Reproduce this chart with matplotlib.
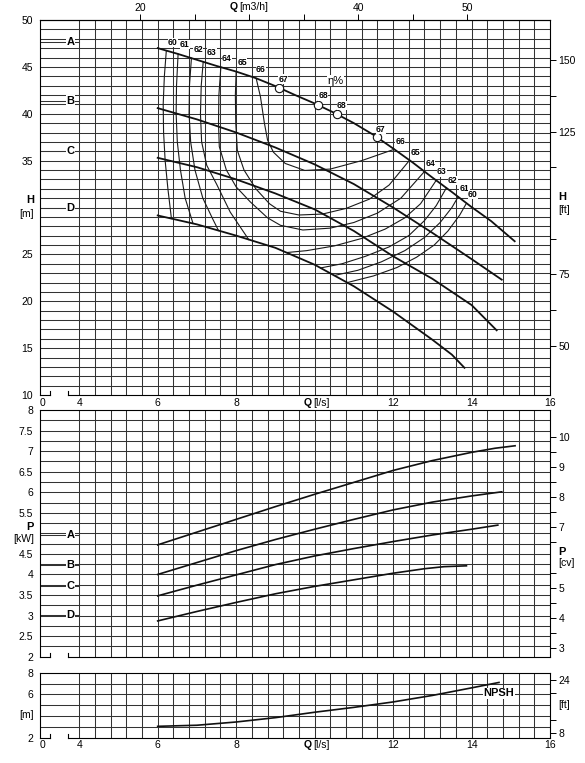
import numpy as np
import matplotlib.pyplot as plt

plt.rcParams['font.family'] = ['Liberation Sans', 'DejaVu Sans']

M_TO_FT = 3.28084
KW_TO_CV = 1.0 / 0.7355
LS_TO_M3H = 3.6

# grid of the Q axis [l/s]
q_grid = np.arange(4.0, 15.99, 0.4)
q_tick_vals = [4, 6, 8, 12, 14, 16]

# ---- H-Q curves : Q [l/s], H [m]
head_q_a = [6.0, 6.5, 7.0, 7.5, 8.0, 8.5, 9.0, 9.5, 10.0, 10.5, 11.0, 11.5, 12.0, 12.5, 13.0, 13.5, 14.0, 14.5, 15.1]
head_h_a = [47.0, 46.4, 45.75, 45.1, 44.5, 43.8, 42.95, 42.0, 41.1, 40.1, 39.0, 37.75, 36.3, 34.8, 33.2, 31.65, 30.05, 28.55, 26.4]
head_q_b = [6.0, 7.0, 8.0, 9.0, 10.0, 11.0, 12.0, 13.0, 14.0, 14.77]
head_h_b = [40.6, 39.4, 38.0, 36.4, 34.6, 32.5, 30.0, 27.3, 24.5, 22.3]
head_q_c = [6.0, 7.0, 8.0, 9.0, 10.0, 11.0, 12.0, 13.0, 14.0, 14.64]
head_h_c = [35.3, 34.3, 33.0, 31.5, 29.8, 27.5, 24.8, 22.4, 19.6, 16.9]
head_q_d = [6.0, 7.0, 8.0, 9.0, 10.0, 11.0, 12.0, 13.0, 13.5, 13.82]
head_h_d = [29.15, 28.2, 27.0, 25.7, 23.9, 21.6, 18.9, 15.9, 14.3, 12.9]

# ---- iso-efficiency lines (Q, H)
eff60_left = [(6.22, 46.74), (6.17, 44.0), (6.14, 41.0), (6.15, 38.0), (6.19, 35.0), (6.26, 32.0), (6.35, 28.82)]
eff60_right = [(10.84, 22.0), (11.5, 22.7), (12.1, 23.6), (12.6, 24.7), (13.05, 26.0), (13.4, 27.5), (13.7, 29.2), (13.87, 30.45)]
eff61_left = [(6.52, 46.37), (6.48, 43.0), (6.47, 40.0), (6.5, 37.0), (6.58, 34.0), (6.7, 31.0), (6.9, 28.3)]
eff61_right = [(10.5, 22.75), (11.1, 23.3), (11.7, 24.2), (12.3, 25.4), (12.8, 26.8), (13.2, 28.4), (13.5, 30.0), (13.66, 31.15)]
eff62_left = [(6.86, 45.93), (6.81, 43.0), (6.8, 40.0), (6.84, 37.0), (6.95, 34.0), (7.15, 31.0), (7.4, 28.8), (7.55, 27.54)]
eff62_right = [(10.15, 23.55), (10.7, 24.0), (11.3, 24.8), (11.9, 25.8), (12.4, 27.0), (12.8, 28.6), (13.1, 30.2), (13.36, 32.1)]
eff63_left = [(7.16, 45.54), (7.11, 43.0), (7.09, 40.0), (7.12, 37.0), (7.25, 34.5), (7.5, 32.5), (7.85, 29.5), (8.32, 26.58)]
eff63_right = [(9.3, 25.2), (9.8, 25.4), (10.5, 25.9), (11.2, 26.7), (11.8, 27.7), (12.3, 28.9), (12.7, 30.4), (13.1, 32.9)]
eff64 = [(7.61, 44.97), (7.56, 42.0), (7.55, 39.0), (7.57, 36.5), (7.75, 34.0), (8.0, 32.2), (8.36, 30.6), (8.8, 28.9),
         (9.13, 28.1), (9.7, 27.6), (10.4, 27.8), (11.0, 28.4), (11.6, 29.4), (12.2, 31.0), (12.8, 33.84)]
eff65 = [(8.0, 44.5), (7.98, 42.0), (7.99, 39.0), (8.03, 36.1), (8.2, 34.0), (8.5, 32.0), (8.85, 30.4), (9.13, 29.6),
         (9.6, 29.2), (10.2, 29.3), (10.8, 29.9), (11.4, 30.9), (11.9, 32.4), (12.42, 35.04)]
eff66 = [(8.51, 43.78), (8.62, 41.8), (8.72, 39.0), (8.8, 37.2), (8.95, 35.9), (9.25, 34.7), (9.75, 33.95),
         (10.4, 34.1), (11.2, 35.0), (12.03, 36.21)]

# best efficiency markers on curve A
eff_mark_q = [9.08, 10.09, 10.56, 11.59]
eff_mark_h = [42.8, 40.95, 39.97, 37.5]

# efficiency labels
eff_lab_left = ['60', '61', '62', '63', '64', '65', '66', '67']
eff_lab_left_q = [6.39, 6.69, 7.03, 7.38, 7.76, 8.15, 8.63, 9.2]
eff_lab_left_h = [47.6, 47.4, 46.9, 46.5, 45.9, 45.45, 44.7, 43.7]
eff_lab_right = ['68', '68', '67', '66', '65', '64', '63', '62', '61', '60']
eff_lab_right_q = [10.22, 10.69, 11.69, 12.18, 12.56, 12.95, 13.24, 13.52, 13.82, 14.03]
eff_lab_right_h = [41.9, 40.9, 38.3, 37.0, 35.85, 34.7, 33.8, 32.9, 32.05, 31.4]

# ---- power curves P [kW]
pow_q_a = [6.0, 7.0, 8.0, 9.0, 10.0, 11.0, 12.0, 13.0, 14.0, 14.6, 15.11]
pow_p_a = [4.72, 5.03, 5.34, 5.65, 5.95, 6.24, 6.53, 6.77, 6.97, 7.07, 7.13]
pow_q_b = [6.0, 7.0, 8.0, 9.0, 10.0, 11.0, 12.0, 13.0, 14.0, 14.77]
pow_p_b = [4.0, 4.29, 4.58, 4.85, 5.1, 5.34, 5.57, 5.76, 5.91, 6.01]
pow_q_c = [6.0, 7.0, 8.0, 9.0, 10.0, 11.0, 12.0, 13.0, 14.0, 14.67]
pow_p_c = [3.48, 3.74, 3.99, 4.24, 4.45, 4.63, 4.80, 4.96, 5.1, 5.2]
pow_q_d = [6.0, 7.0, 8.0, 9.0, 10.0, 11.0, 12.0, 12.8, 13.3, 13.87]
pow_p_d = [2.87, 3.1, 3.32, 3.53, 3.71, 3.87, 4.03, 4.14, 4.19, 4.21]

# ---- NPSH [m]
npsh_q = [6.0, 7.0, 8.0, 9.0, 10.0, 11.0, 12.0, 13.0, 14.0, 14.7]
npsh_m = [3.05, 3.15, 3.45, 3.85, 4.35, 4.8, 5.3, 5.9, 6.6, 7.1]

# curve letters
letters = ['A', 'B', 'C', 'D']
letter_h = [47.65, 41.4, 36.0, 29.9]
letter_p = [4.97, 4.22, 3.72, 3.02]

# axis tick labels (the unit label takes the place of one value)
h_ticks = [10, 15, 20, 25, 35, 40, 45, 50]
p_ticks = [2, 2.5, 3, 3.5, 4, 4.5, 5.5, 6, 6.5, 7, 7.5, 8]
n_ticks = [2, 6, 8]
ft_ticks = [50, 62.5, 75, 87.5, 112.5, 125, 137.5, 150]
ft_labels = ['50', '', '75', '', '', '125', '', '150']
cv_ticks = [3, 3.5, 4, 4.5, 5, 5.5, 6.5, 7, 7.5, 8, 8.5, 9, 9.5, 10]
cv_labels = ['3', '', '4', '', '5', '', '', '7', '', '8', '', '9', '', '10']
nft_ticks = [8, 12, 20, 24]
nft_labels = ['8', '', '', '24']
m3h_ticks = [20, 25, 30, 35, 40, 45, 50]
m3h_labels = ['20', '', '', '', '40', '', '50']

GRID = '#333333'
FS = 7.5

W, HPX = 585.0, 763.0
fig = plt.figure(figsize=(W / 100, HPX / 100), dpi=100)


def rect(top, bottom, left=40, right=550):
    return [left / W, 1 - bottom / HPX, (right - left) / W, (bottom - top) / HPX]


def setup_panel(ax, ylo, yhi, ystep, yticks, height_px):
    ax.set_xlim(3, 16)
    ax.set_ylim(ylo, yhi)
    ax.set_xticks(q_grid)
    ax.tick_params(axis='x', length=0, labelbottom=False)
    ax.grid(True, axis='x', color=GRID, lw=0.75)
    ax.hlines(np.arange(ylo + ystep, yhi - 1e-6, ystep), 3, 16, color=GRID, lw=0.75, zorder=0.5)
    ax.set_yticks(yticks)
    ax.set_yticklabels(['%g' % v for v in yticks])
    ax.tick_params(axis='y', length=0, labelsize=FS, pad=5)
    ax.set_axisbelow(True)
    for s in ax.spines.values():
        s.set_linewidth(0.8)
    # broken bottom axis between 0 and 4
    ax.spines['bottom'].set_visible(False)
    tr = ax.get_xaxis_transform()
    tk = 4.0 / height_px
    kw = dict(transform=tr, color='k', lw=0.8, clip_on=False)
    ax.plot([3, 3.26], [0, 0], **kw)
    ax.plot([3.26, 3.26], [0, tk], **kw)
    ax.plot([3.72, 3.72], [0, tk], **kw)
    ax.plot([3.72, 16], [0, 0], **kw)


def add_right(ax, factor, ticks, labels):
    axr = ax.twinx()
    lo, hi = ax.get_ylim()
    axr.set_ylim(lo * factor, hi * factor)
    axr.set_yticks(ticks)
    axr.set_yticklabels(labels)
    axr.tick_params(direction='out', length=4, width=0.7, labelsize=FS, pad=2)
    for s in axr.spines.values():
        s.set_visible(False)
    return axr


def q_labels(ax, yax):
    tr = ax.get_xaxis_transform()
    ax.text(3.07, yax, '0', transform=tr, fontsize=FS, ha='center', va='center')
    for q in q_tick_vals:
        ax.text(q, yax, str(q), transform=tr, fontsize=FS, ha='center', va='center')
    ax.text(9.93, yax, 'Q', transform=tr, fontsize=FS, fontweight='bold', ha='right', va='center')
    ax.text(9.97, yax, '[l/s]', transform=tr, fontsize=FS, ha='left', va='center')


def letter_marks(ax, yvals):
    for lab, y in zip(letters, yvals):
        ax.plot([3, 4], [y, y], color=GRID, lw=0.75, zorder=1)
        ax.text(3.78, y, lab, fontsize=8, fontweight='bold', ha='center', va='center', zorder=3,
                bbox=dict(fc='white', ec='none', pad=0.6))


# ---------------- H panel
ax_h = fig.add_axes(rect(20, 395))
setup_panel(ax_h, 10, 50, 1, h_ticks, 375)
add_right(ax_h, M_TO_FT, ft_ticks, ft_labels)
q_labels(ax_h, -0.021)
letter_marks(ax_h, letter_h)

sec = ax_h.secondary_xaxis('top', functions=(lambda q: q * LS_TO_M3H, lambda m: m / LS_TO_M3H))
sec.set_xticks(m3h_ticks)
sec.set_xticklabels(m3h_labels)
sec.tick_params(direction='out', length=4, width=0.7, labelsize=FS, pad=1)
ax_h.text(8.03, 1.035, 'Q', transform=ax_h.get_xaxis_transform(), fontsize=FS, fontweight='bold',
          ha='right', va='center')
ax_h.text(8.07, 1.035, '[m3/h]', transform=ax_h.get_xaxis_transform(), fontsize=FS, ha='left', va='center')

ax_h.text(-0.012, 0.52, 'H', transform=ax_h.transAxes, fontsize=8, fontweight='bold', ha='right', va='center')
ax_h.text(-0.012, 0.483, '[m]', transform=ax_h.transAxes, fontsize=FS, ha='right', va='center')
ax_h.text(1.017, 0.528, 'H', transform=ax_h.transAxes, fontsize=8, fontweight='bold', ha='left', va='center')
ax_h.text(1.017, 0.493, '[ft]', transform=ax_h.transAxes, fontsize=FS, ha='left', va='center')

for q, h in [(head_q_a, head_h_a), (head_q_b, head_h_b), (head_q_c, head_h_c), (head_q_d, head_h_d)]:
    ax_h.plot(q, h, color='#111111', lw=1.3, zorder=3)

for pts in [eff60_left, eff60_right, eff61_left, eff61_right, eff62_left, eff62_right,
            eff63_left, eff63_right, eff64, eff65, eff66]:
    arr = np.array(pts)
    ax_h.plot(arr[:, 0], arr[:, 1], color='#1a1a1a', lw=0.8, zorder=2)

ax_h.plot(eff_mark_q, eff_mark_h, 'o', ms=6, mfc='white', mec='#111111', mew=0.8, zorder=4)
for lab, q, h in zip(eff_lab_left + eff_lab_right, eff_lab_left_q + eff_lab_right_q,
                     eff_lab_left_h + eff_lab_right_h):
    ax_h.text(q, h, lab, fontsize=6.2, fontweight='bold', ha='center', va='center', zorder=5,
              bbox=dict(fc='white', ec='none', pad=0.2))
ax_h.text(10.54, 43.5, 'η%', fontsize=8, ha='center', va='center', zorder=5,
          bbox=dict(fc='white', ec='none', pad=0.3))

# ---------------- P panel
ax_p = fig.add_axes(rect(410, 656.7))
setup_panel(ax_p, 2, 8, 0.25, p_ticks, 246.7)
add_right(ax_p, KW_TO_CV, cv_ticks, cv_labels)
letter_marks(ax_p, letter_p)
ax_p.text(-0.012, 0.527, 'P', transform=ax_p.transAxes, fontsize=8, fontweight='bold', ha='right', va='center')
ax_p.text(-0.012, 0.477, '[kW]', transform=ax_p.transAxes, fontsize=FS, ha='right', va='center')
ax_p.text(1.017, 0.424, 'P', transform=ax_p.transAxes, fontsize=8, fontweight='bold', ha='left', va='center')
ax_p.text(1.017, 0.38, '[cv]', transform=ax_p.transAxes, fontsize=FS, ha='left', va='center')

for q, p in [(pow_q_a, pow_p_a), (pow_q_b, pow_p_b), (pow_q_c, pow_p_c), (pow_q_d, pow_p_d)]:
    ax_p.plot(q, p, color='#111111', lw=1.2, zorder=3)

# ---------------- NPSH panel
ax_n = fig.add_axes(rect(672.7, 737.7))
setup_panel(ax_n, 2, 8, 1, n_ticks, 65)
add_right(ax_n, M_TO_FT, nft_ticks, nft_labels)
q_labels(ax_n, -0.112)
ax_n.text(-0.012, 0.35, '[m]', transform=ax_n.transAxes, fontsize=FS, ha='right', va='center')
ax_n.text(1.017, 0.503, '[ft]', transform=ax_n.transAxes, fontsize=FS, ha='left', va='center')
ax_n.plot(npsh_q, npsh_m, color='#111111', lw=1.2, zorder=3)
ax_n.text(14.69, 6.1, 'NPSH', fontsize=8, fontweight='bold', ha='center', va='center', zorder=4,
          bbox=dict(fc='white', ec='none', pad=0.4))

fig.savefig('out.png', dpi=100, facecolor='white')
